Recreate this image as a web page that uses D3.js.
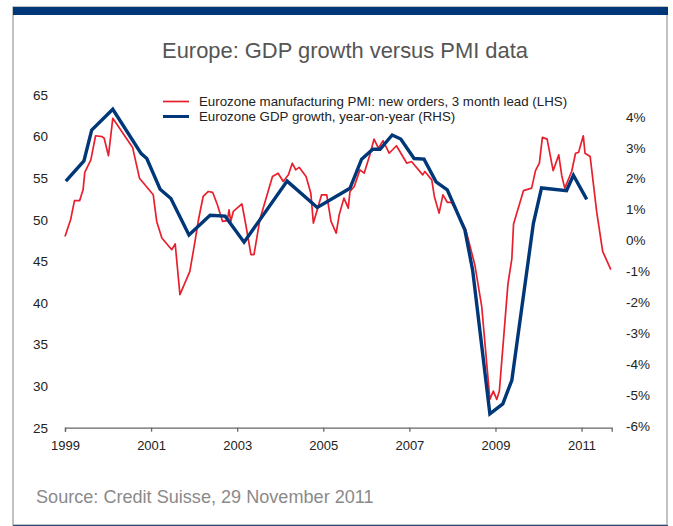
<!DOCTYPE html>
<html>
<head>
<meta charset="utf-8">
<script src="https://cdn.jsdelivr.net/npm/d3@7"></script>
<style>
  html, body { margin: 0; padding: 0; background: #fff; }
  svg { display: block; font-family: "Liberation Sans", Arial, Helvetica, sans-serif; }
</style>
</head>
<body>
<svg id="chart" width="673" height="526"></svg>
<script>
// Eurozone manufacturing PMI new orders (3 month lead), decimal year / index level
const pmiDates = [
  1999.00, 1999.13, 1999.22, 1999.34, 1999.42, 1999.46, 1999.60, 1999.71, 1999.86, 1999.91,
  2000.01, 2000.11, 2000.57, 2000.73, 2001.05, 2001.13, 2001.25, 2001.48, 2001.56, 2001.67,
  2001.90, 2002.02, 2002.10, 2002.21, 2002.33, 2002.43, 2002.54, 2002.66, 2002.77, 2002.81,
  2002.85, 2002.91, 2003.11, 2003.20, 2003.32, 2003.39, 2003.53, 2003.82, 2003.95, 2004.07,
  2004.19, 2004.28, 2004.36, 2004.44, 2004.60, 2004.71, 2004.77, 2004.86, 2004.96, 2005.08,
  2005.18, 2005.30, 2005.37, 2005.48, 2005.58, 2005.62, 2005.72, 2005.85, 2005.95, 2006.07,
  2006.18, 2006.28, 2006.39, 2006.53, 2006.70, 2006.94, 2007.05, 2007.31, 2007.36, 2007.52,
  2007.58, 2007.69, 2007.78, 2007.88, 2007.98, 2008.14, 2008.31, 2008.52, 2008.68, 2008.87,
  2008.95, 2009.03, 2009.09, 2009.29, 2009.38, 2009.42, 2009.65, 2009.84, 2009.93, 2010.02,
  2010.09, 2010.20, 2010.34, 2010.47, 2010.54, 2010.61, 2010.77, 2010.86, 2010.93, 2011.04,
  2011.08, 2011.20, 2011.35, 2011.49, 2011.68
];
const pmiValues = [
  48.0, 50.0, 52.3, 52.3, 53.6, 55.7, 57.2, 60.1, 60.0, 59.8,
  57.7, 62.2, 58.7, 55.0, 53.0, 49.8, 47.8, 46.4, 47.1, 41.0,
  43.8, 47.4, 50.0, 52.8, 53.4, 53.3, 51.8, 49.8, 49.9, 51.2,
  49.8, 51.0, 51.9, 49.4, 45.8, 45.8, 50.1, 55.2, 55.6, 54.6,
  55.4, 56.8, 56.0, 56.3, 55.2, 53.2, 49.6, 51.2, 53.0, 53.0,
  49.8, 48.4, 50.6, 52.6, 51.4, 53.4, 54.0, 56.0, 55.6, 57.6,
  59.7, 58.6, 59.5, 58.0, 58.9, 56.8, 57.0, 55.4, 55.8, 54.8,
  52.8, 50.8, 53.0, 52.1, 52.1, 50.6, 48.8, 44.6, 39.6, 28.4,
  29.4, 28.4, 29.4, 42.3, 45.3, 49.5, 53.5, 53.8, 55.9, 56.8,
  59.9, 59.7, 55.9, 57.8, 55.3, 53.8, 55.8, 58.0, 58.1, 60.1,
  58.0, 57.6, 51.0, 46.2, 44.0
];

// Eurozone GDP growth, year-on-year (%)
const gdpDates = [
  1999.02, 1999.44, 1999.62, 2000.11, 2000.77, 2000.90, 2001.21, 2001.46, 2001.88, 2002.37,
  2002.72, 2003.16, 2004.16, 2004.86, 2005.62, 2005.89, 2006.15, 2006.32, 2006.60, 2006.80,
  2007.11, 2007.34, 2007.62, 2007.88, 2008.29, 2008.47, 2008.87, 2009.17, 2009.38, 2009.88,
  2010.07, 2010.65, 2010.81, 2011.12
];
const gdpValues = [
  1.92, 2.57, 3.57, 4.24, 2.81, 2.65, 1.66, 1.36, 0.18, 0.82,
  0.79, -0.05, 1.92, 1.07, 1.69, 2.63, 2.95, 2.95, 3.41, 3.28,
  2.65, 2.63, 1.90, 1.64, 0.34, -0.96, -5.59, -5.27, -4.51, 0.55,
  1.70, 1.61, 2.11, 1.33
];

const xTicks = [1999, 2001, 2003, 2005, 2007, 2009, 2011];
const leftTicks = [25, 30, 35, 40, 45, 50, 55, 60, 65];
const rightTicks = [-6, -5, -4, -3, -2, -1, 0, 1, 2, 3, 4];

const titleText = "Europe: GDP growth versus PMI data";
const sourceText = "Source: Credit Suisse, 29 November 2011";
const seriesNames = [
  "Eurozone manufacturing PMI: new orders, 3 month lead (LHS)",
  "Eurozone GDP growth, year-on-year (RHS)"
];

const RED = "#e8202e";
const NAVY = "#003778";

const svg = d3.select("#chart");

// frame
svg.append("rect").attr("x", 13).attr("y", 7).attr("width", 654).attr("height", 518)
  .attr("fill", "none").attr("stroke", "#9a9a9a").attr("stroke-width", 1.2);
svg.append("rect").attr("x", 13).attr("y", 7).attr("width", 655).attr("height", 8).attr("fill", NAVY);
svg.append("line").attr("x1", 13).attr("x2", 668).attr("y1", 525.5).attr("y2", 525.5)
  .attr("stroke", "#2a4a78").attr("stroke-width", 1);

// title
svg.append("text").attr("x", 345).attr("y", 57.5).attr("text-anchor", "middle")
  .attr("font-size", 21.9).attr("fill", "#555").text(titleText);

// scales
const x = d3.scaleLinear().domain([1999, 2011.7]).range([65, 611.7]);
const yL = d3.scaleLinear().domain([25, 65]).range([427.7, 95]);
const yR = d3.scaleLinear().domain([-6, 4]).range([426.5, 116.7]);

// x axis
const xAxis = d3.axisBottom(x).tickValues(xTicks).tickFormat(d3.format("d")).tickSize(4).tickPadding(9);
const gx = svg.append("g").attr("transform", `translate(0,${yL(25)})`).call(xAxis);
gx.select(".domain").attr("stroke", "#666").attr("stroke-width", 1.3);
gx.selectAll(".tick line").attr("stroke", "#666").attr("stroke-width", 1.3);
gx.selectAll("text").attr("font-size", 13).attr("fill", "#222").attr("font-family", null);

// left axis (labels only)
const gl = svg.append("g").attr("transform", "translate(48,0)")
  .call(d3.axisLeft(yL).tickValues(leftTicks).tickSize(0).tickPadding(0));
gl.select(".domain").remove();
gl.selectAll("text").attr("font-size", 13.5).attr("fill", "#222").attr("font-family", null);

// right axis (labels only)
const gr = svg.append("g").attr("transform", "translate(626,0)")
  .call(d3.axisRight(yR).tickValues(rightTicks).tickSize(0).tickPadding(0).tickFormat(d => d + "%"));
gr.select(".domain").remove();
gr.selectAll("text").attr("font-size", 13.5).attr("fill", "#222").attr("font-family", null);

// series
const pmi = pmiDates.map((d, i) => [d, pmiValues[i]]);
const gdp = gdpDates.map((d, i) => [d, gdpValues[i]]);

svg.append("path").datum(pmi)
  .attr("fill", "none").attr("stroke", RED).attr("stroke-width", 1.7).attr("stroke-linejoin", "round")
  .attr("d", d3.line().x(d => x(d[0])).y(d => yL(d[1])));

svg.append("path").datum(gdp)
  .attr("fill", "none").attr("stroke", NAVY).attr("stroke-width", 3.4).attr("stroke-linejoin", "miter")
  .attr("d", d3.line().x(d => x(d[0])).y(d => yR(d[1])));

// legend
const legend = svg.append("g");
[[RED, 1.7, 101.5], [NAVY, 3, 116.5]].forEach(([c, w, yy], i) => {
  legend.append("line").attr("x1", 163).attr("x2", 189).attr("y1", yy).attr("y2", yy)
    .attr("stroke", c).attr("stroke-width", w);
  legend.append("text").attr("x", 199).attr("y", yy + 4.7).attr("font-size", 13.3)
    .attr("fill", "#222").text(seriesNames[i]);
});

// source
svg.append("text").attr("x", 36).attr("y", 502.5).attr("font-size", 18.1)
  .attr("fill", "#8a8a8a").text(sourceText);
</script>
</body>
</html>
